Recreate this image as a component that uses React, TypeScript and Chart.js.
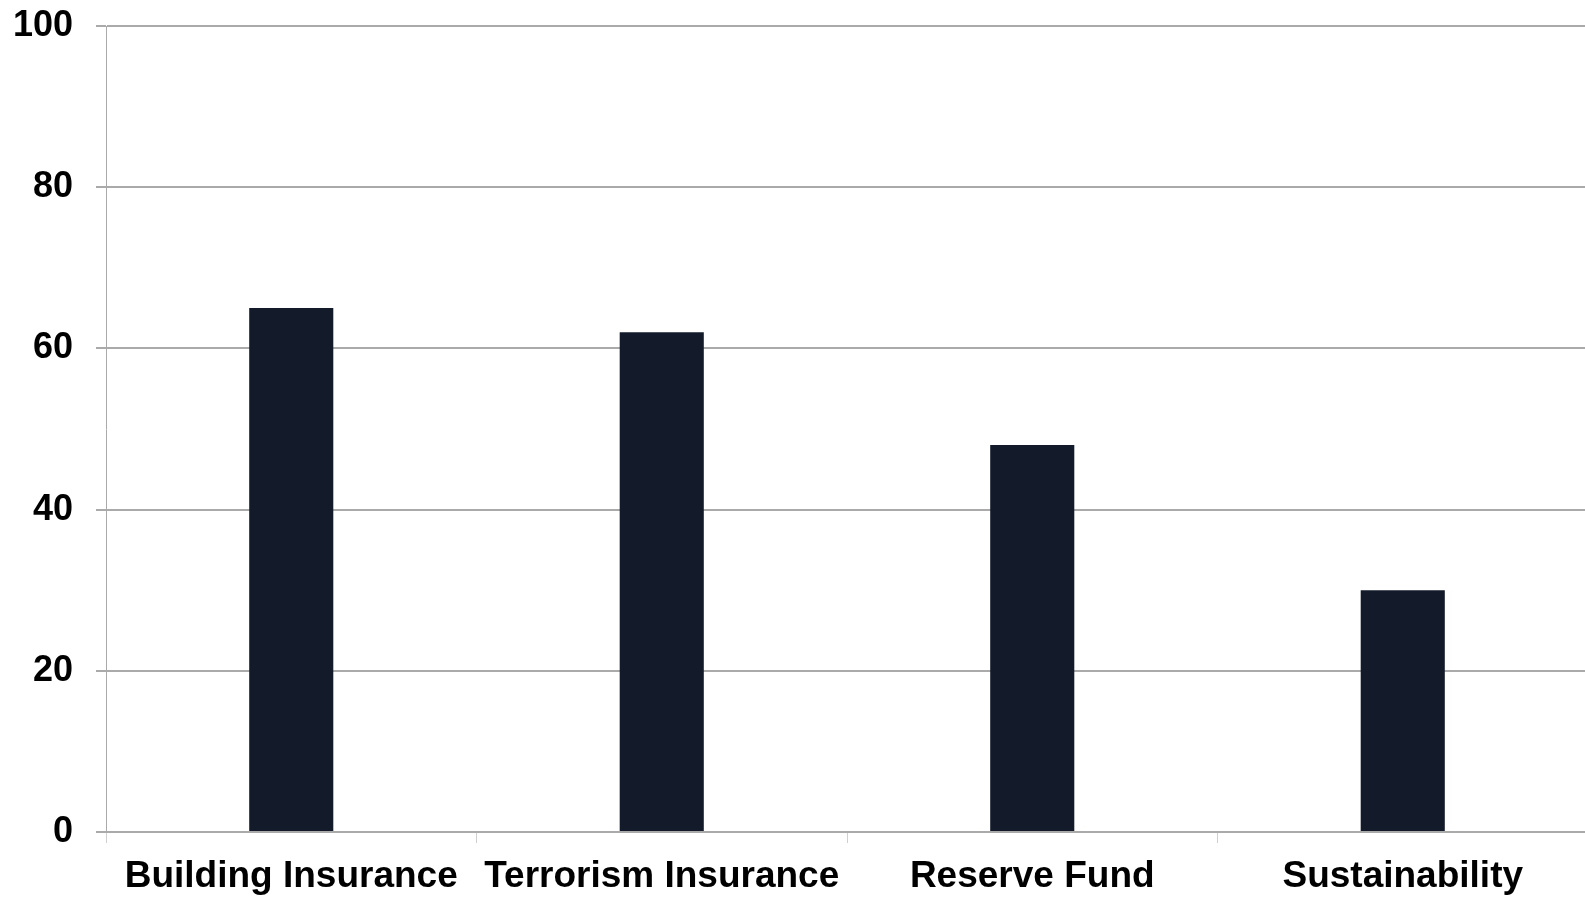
import React, { useEffect, useRef } from "react";
import { Chart, registerables } from "chart.js";

Chart.register(...registerables);

const categories = ["Building Insurance", "Terrorism Insurance", "Reserve Fund", "Sustainability"];
const values = [65, 62, 48, 30];
const yTicks = [0, 20, 40, 60, 80, 100];

export default function App() {
  const ref = useRef<HTMLCanvasElement | null>(null);
  useEffect(() => {
    document.body.style.margin = "0";
    document.body.style.overflow = "hidden";
    const ctx = ref.current!;
    const chart = new Chart(ctx, {
      type: "bar",
      data: {
        labels: categories,
        datasets: [
          {
            data: values,
            backgroundColor: "#131b2b",
            borderWidth: 0,
            barPercentage: 0.227,
            categoryPercentage: 1,
          },
        ],
      },
      options: {
        responsive: false,
        animation: false,
        maintainAspectRatio: false,
        layout: { padding: { top: 26, right: 0, left: 0, bottom: 0 } },
        plugins: { legend: { display: false }, tooltip: { enabled: false } },
        scales: {
          x: {
            grid: {
              display: true,
              drawOnChartArea: false,
              drawTicks: true,
              tickLength: 11,
              color: "#d0d0d0",
              lineWidth: 1,
              offset: true,
            },
            border: { display: true, color: "#aaaaaa", width: 2 },
            ticks: {
              color: "#000",
              font: { family: "'Liberation Sans', Arial, sans-serif", size: 37, weight: "bold" },
              padding: 12,
              maxRotation: 0,
              autoSkip: false,
            },
            afterFit: (s: any) => {
              s.height = 66;
              s.paddingLeft = 0;
              s.paddingRight = 0;
            },
          },
          y: {
            min: 0,
            max: 100,
            afterBuildTicks: (s: any) => {
              s.ticks = yTicks.map((v) => ({ value: v }));
            },
            grid: {
              color: "#aaaaaa",
              lineWidth: 2,
              drawTicks: true,
              tickLength: 10,
            },
            border: { display: true, color: "#aaaaaa", width: 1 },
            ticks: {
              color: "#000",
              font: { family: "'Liberation Sans', Arial, sans-serif", size: 36, weight: "bold" },
              padding: 23,
            },
            afterFit: (s: any) => {
              s.width = 106;
              s.paddingTop = 0;
              s.paddingBottom = 0;
            },
          },
        },
      },
    });
    return () => chart.destroy();
  }, []);
  return (
    <div style={{ width: 1585, height: 898, background: "#fff", overflow: "hidden" }}>
      <canvas ref={ref} width={1588} height={898} style={{ display: "block" }} />
    </div>
  );
}
